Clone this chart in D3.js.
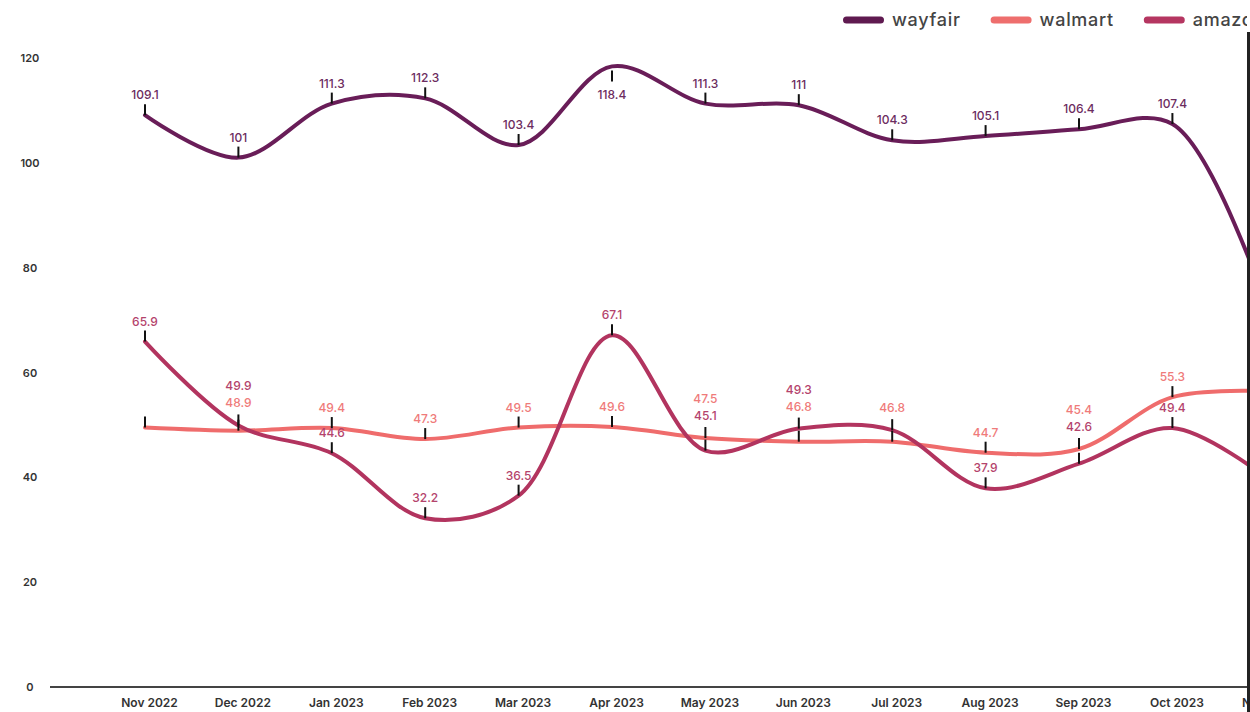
<!DOCTYPE html>
<html>
<head>
<meta charset="utf-8">
<script src="https://cdn.jsdelivr.net/npm/d3@7"></script>
<style>
  body { margin: 0; background: #fff; }
  svg { display: block; font-family: Inter, "Open Sans", sans-serif; }
</style>
</head>
<body>
<svg id="chart" width="1250" height="712"></svg>
<script>
// values
const months = ["Nov 2022", "Dec 2022", "Jan 2023", "Feb 2023", "Mar 2023", "Apr 2023", "May 2023",
  "Jun 2023", "Jul 2023", "Aug 2023", "Sep 2023", "Oct 2023", "Nov 2023"];
const wayfair = [109.1, 101, 111.3, 112.3, 103.4, 118.4, 111.3, 111, 104.3, 105.1, 106.4, 107.4, 73];
const walmart = [49.5, 48.9, 49.4, 47.3, 49.5, 49.6, 47.5, 46.8, 46.8, 44.7, 45.4, 55.3, 56.4];
const amazon = [65.9, 49.9, 44.6, 32.2, 36.5, 67.1, 45.1, 49.3, 49.0, 37.9, 42.6, 49.4, 40];
const yTicks = [0, 20, 40, 60, 80, 100, 120];

// labels that the original chart does not show
const hiddenLabels = ["walmart|Nov 2022", "amazon|Jul 2023"];

const series = [
  { name: "wayfair", values: wayfair, line: "#691d58", legend: "#5f1a50", label: "#6c2c60" },
  { name: "walmart", values: walmart, line: "#ef6c6c", legend: "#ee6e6d", label: "#ef7b7a" },
  { name: "amazon", values: amazon, line: "#b2345f", legend: "#b53661", label: "#b4436c" }
];

const svg = d3.select("#chart");
const W = 1250, H = 712, clipW = 1247;

const x = d3.scalePoint().domain(months).range([145, 1265.8]);
const y = d3.scaleLinear().domain([0, 120]).range([687, 58]);

svg.append("clipPath").attr("id", "clip")
  .append("rect").attr("x", 0).attr("y", 0).attr("width", clipW).attr("height", H);

const root = svg.append("g").attr("clip-path", "url(#clip)");

// y axis labels (no axis line)
root.append("g").selectAll("text")
  .data(yTicks)
  .join("text")
  .attr("x", 30)
  .attr("y", d => y(d) + 4)
  .attr("text-anchor", "middle")
  .attr("font-size", 11)
  .attr("font-weight", 600)
  .attr("fill", "#333")
  .text(d => d);

// x axis
const xAxis = root.append("g").attr("transform", `translate(0,${y(0)})`)
  .call(d3.axisBottom(x).tickSize(0).tickPadding(11));
xAxis.select(".domain").remove();
xAxis.selectAll("text")
  .attr("dx", 4)
  .attr("font-family", "Inter, sans-serif")
  .attr("font-size", 12)
  .attr("font-weight", 600)
  .attr("fill", "#333");
root.append("line")
  .attr("x1", 50).attr("x2", W)
  .attr("y1", y(0)).attr("y2", y(0))
  .attr("stroke", "#444").attr("stroke-width", 2);

// lines
const line = d3.line()
  .x((d, i) => x(months[i]))
  .y(d => y(d))
  .curve(d3.curveCatmullRom.alpha(0.5));

root.append("g").selectAll("path")
  .data(series)
  .join("path")
  .attr("fill", "none")
  .attr("stroke", d => d.line)
  .attr("stroke-width", 4)
  .attr("stroke-linecap", "round")
  .attr("d", d => line(d.values));

// label layout: above the point, flipped below near the top,
// stacked above the higher point when two points are close
const tickLen = 11;
const labels = [];
months.forEach((m, i) => {
  const here = series.map(s => {
    const py = y(s.values[i]);
    const below = py - 26 < y(120);
    return {
      s, m, i, px: x(m), py, below,
      tick: below ? [py + 4, py + 4 + tickLen] : [py - tickLen, py],
      ly: below ? py + 33 : py - 16,
      show: !hiddenLabels.includes(s.name + "|" + m)
    };
  });
  const up = here.filter(d => !d.below).sort((a, b) => b.py - a.py);
  for (let k = 0; k < up.length - 1; k++) {
    const lo = up[k], hi = up[k + 1];
    if (lo.py - hi.py < 16) {
      lo.ly = hi.py - 18;
      hi.ly = hi.py - 35;
    }
  }
  labels.push(...here);
});

root.append("g").selectAll("line")
  .data(labels)
  .join("line")
  .attr("x1", d => d.px).attr("x2", d => d.px)
  .attr("y1", d => d.tick[0]).attr("y2", d => d.tick[1])
  .attr("stroke", "#111")
  .attr("stroke-width", 2);

root.append("g").selectAll("text")
  .data(labels.filter(d => d.show))
  .join("text")
  .attr("x", d => d.px)
  .attr("y", d => d.ly)
  .attr("text-anchor", "middle")
  .attr("font-size", 12)
  .attr("font-weight", 500)
  .attr("fill", d => d.s.label)
  .text(d => d.s.values[d.i]);

// legend
const legend = root.append("g").attr("transform", "translate(843,20)");
let lx = 0;
series.forEach(s => {
  const g = legend.append("g").attr("transform", `translate(${lx},0)`);
  g.append("rect")
    .attr("x", 0).attr("y", -3.5)
    .attr("width", 41).attr("height", 7)
    .attr("rx", 3.5)
    .attr("fill", s.legend);
  const t = g.append("text")
    .attr("x", 49).attr("y", 6)
    .attr("font-size", 18)
    .attr("letter-spacing", 0.7)
    .attr("font-weight", 500)
    .attr("fill", "#444")
    .text(s.name);
  lx += 49 + t.node().getComputedTextLength() + 30;
});

// right edge border of the cropped screenshot
svg.append("rect")
  .attr("x", clipW).attr("y", 32)
  .attr("width", W - clipW).attr("height", H - 32)
  .attr("fill", "#222");
</script>
</body>
</html>
